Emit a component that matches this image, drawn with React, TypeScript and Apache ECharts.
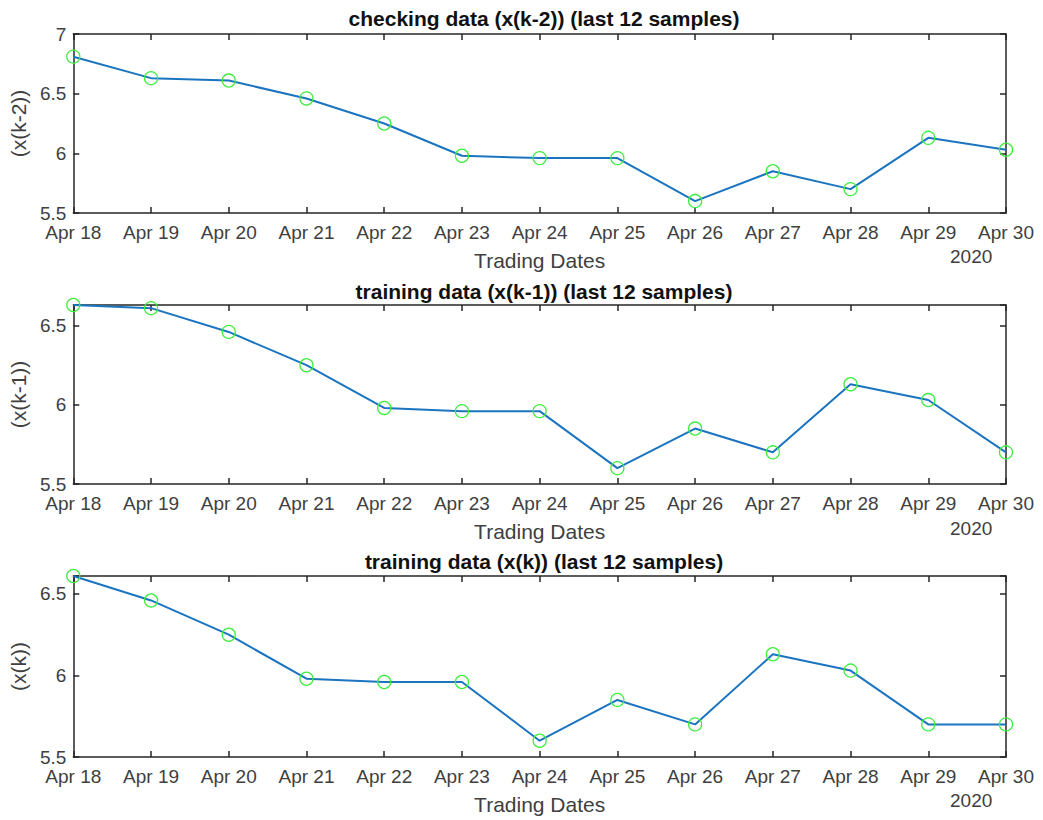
import React, { useEffect, useRef } from "react";
import * as echarts from "echarts";

const dates = ["Apr 18", "Apr 19", "Apr 20", "Apr 21", "Apr 22", "Apr 23", "Apr 24", "Apr 25", "Apr 26", "Apr 27", "Apr 28", "Apr 29", "Apr 30"];
const xk2 = [6.81, 6.63, 6.61, 6.46, 6.25, 5.98, 5.96, 5.96, 5.6, 5.85, 5.7, 6.13, 6.03];
const xk1 = [6.63, 6.61, 6.46, 6.25, 5.98, 5.96, 5.96, 5.6, 5.85, 5.7, 6.13, 6.03, 5.7];
const xk = [6.61, 6.46, 6.25, 5.98, 5.96, 5.96, 5.6, 5.85, 5.7, 6.13, 6.03, 5.7, 5.7];
const titles = [
  "checking data (x(k-2)) (last 12 samples)",
  "training data (x(k-1)) (last 12 samples)",
  "training data (x(k)) (last 12 samples)",
];
const yNames = ["(x(k-2))", "(x(k-1))", "(x(k))"];
const yMax = [7, 6.63, 6.61];
const yMin = [5.5, 5.5, 5.5];
const xName = "Trading Dates";
const yearLabel = "2020";

const FONT = "'Liberation Sans', Arial, Helvetica, sans-serif";
const AXIS = "#262626";
const TEXT = "#404040";

export default function App() {
  const ref = useRef<HTMLDivElement>(null);
  useEffect(() => {
    if (!ref.current) return;
    const chart = echarts.init(ref.current, null, { renderer: "svg" });
    const grids = [
      { left: 72, right: 37, top: 34, height: 179 },
      { left: 72, right: 37, top: 305, height: 179 },
      { left: 72, right: 37, top: 576, height: 181 },
    ];
    const series = [xk2, xk1, xk];
    const xAxis: any[] = [];
    const yAxis: any[] = [];
    const ser: any[] = [];
    grids.forEach((g, i) => {
      xAxis.push({
        type: "category",
        gridIndex: i,
        data: dates,
        boundaryGap: false,
        position: "bottom",
        axisLine: { show: true, onZero: false, lineStyle: { color: AXIS, width: 1.5 } },
        axisTick: { show: true, inside: true, length: 6, alignWithLabel: true, lineStyle: { color: AXIS, width: 1.5 } },
        axisLabel: { color: TEXT, fontSize: 19, fontFamily: FONT, margin: 10, interval: 0, lineHeight: 19 },
        name: xName,
        nameLocation: "middle",
        nameGap: 37,
        nameTextStyle: { color: TEXT, fontSize: 21, fontFamily: FONT },
        splitLine: { show: false },
      });
      xAxis.push({
        type: "category",
        gridIndex: i,
        data: dates,
        boundaryGap: false,
        position: "top",
        axisLine: { show: true, onZero: false, lineStyle: { color: AXIS, width: 1.5 } },
        axisTick: { show: true, inside: true, length: 6, lineStyle: { color: AXIS, width: 1.5 } },
        axisLabel: { show: false },
        splitLine: { show: false },
      });
      yAxis.push({
        type: "value",
        gridIndex: i,
        min: yMin[i],
        max: yMax[i],
        interval: 0.5,
        position: "left",
        axisLine: { show: true, lineStyle: { color: AXIS, width: 1.5 } },
        axisTick: { show: true, inside: true, length: 6, lineStyle: { color: AXIS, width: 1.5 } },
        axisLabel: {
          color: TEXT,
          fontSize: 19,
          fontFamily: FONT,
          margin: 7,
          lineHeight: 17,
          formatter: (v: number) => (Math.abs(v * 2 - Math.round(v * 2)) < 1e-6 ? String(v) : ""),
        },
        splitLine: { show: false },
        name: yNames[i],
        nameLocation: "middle",
        nameGap: 41,
        nameTextStyle: { color: TEXT, fontSize: 21, fontFamily: FONT },
      });
      yAxis.push({
        type: "value",
        gridIndex: i,
        min: yMin[i],
        max: yMax[i],
        interval: 0.5,
        position: "right",
        axisLine: { show: true, lineStyle: { color: AXIS, width: 1.5 } },
        axisTick: { show: true, inside: true, length: 6, lineStyle: { color: AXIS, width: 1.5 } },
        axisLabel: { show: false },
        splitLine: { show: false },
      });
      ser.push({
        type: "line",
        xAxisIndex: i * 2,
        yAxisIndex: i * 2,
        data: series[i],
        clip: false,
        symbol: "circle",
        symbolSize: 13,
        showAllSymbol: true,
        lineStyle: { color: "#1a74c0", width: 2 },
        itemStyle: { color: "rgba(0,0,0,0)", borderColor: "#3ded3d", borderWidth: 1.3 },
        z: 3,
      });
    });
    chart.setOption({
      animation: false,
      backgroundColor: "#ffffff",
      title: titles.map((t, i) => ({
        text: t,
        left: 539,
        textAlign: "center",
        top: [3, 276, 546][i],
        textStyle: { color: "#111111", fontSize: 21, fontWeight: "bold", fontFamily: FONT },
      })),
      grid: grids,
      xAxis,
      yAxis,
      series: ser,
      graphic: [247, 519, 791].map((y) => ({
        type: "text",
        left: 950,
        top: y,
        style: { text: yearLabel, fill: TEXT, fontSize: 19, fontFamily: FONT },
      })),
    });
    return () => chart.dispose();
  }, []);
  return <div ref={ref} style={{ position: "absolute", left: 0, top: 0, width: 1043, height: 820 }} />;
}
